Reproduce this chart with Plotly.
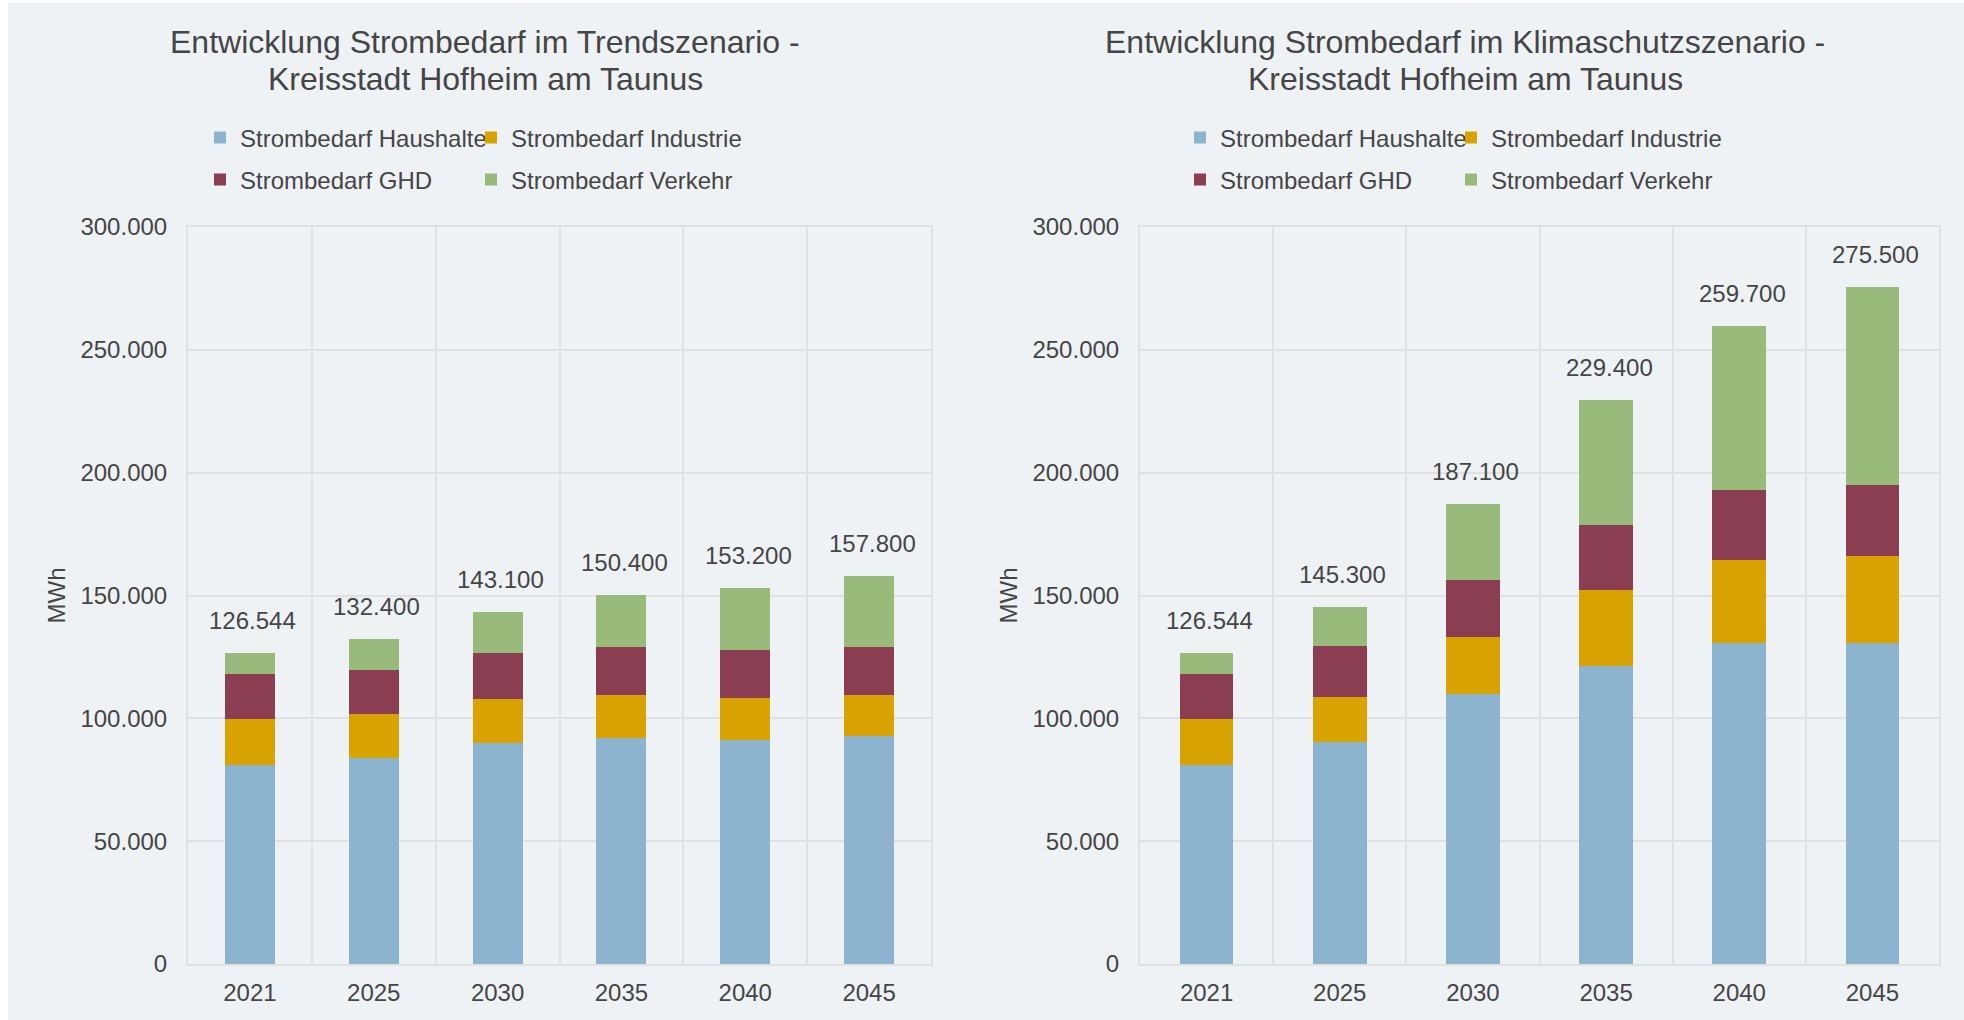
import plotly.graph_objects as go

# ---------------- data ----------------
years = ["2021", "2025", "2030", "2035", "2040", "2045"]
series_names = ["Strombedarf Haushalte", "Strombedarf Industrie",
                "Strombedarf GHD", "Strombedarf Verkehr"]
series_colors = ["#8DB4CE", "#D8A300", "#8B3D52", "#98BB7C"]

trend_haushalte = [81200, 83700, 90000, 92100, 91000, 92800]
trend_industrie = [18600, 17900, 17700, 17600, 17100, 16700]
trend_ghd = [18400, 18200, 18900, 19200, 19700, 19500]
trend_verkehr = [8344, 12600, 16500, 21500, 25400, 28800]
trend_total = [126544, 132400, 143100, 150400, 153200, 157800]

klima_haushalte = [81200, 90400, 110000, 121200, 130800, 130800]
klima_industrie = [18600, 18400, 23300, 31100, 33800, 35300]
klima_ghd = [18400, 20500, 23200, 26400, 28300, 29000]
klima_verkehr = [8344, 16000, 30600, 50700, 66800, 80400]
klima_total = [126544, 145300, 187100, 229400, 259700, 275500]

title_trend = ["Entwicklung Strombedarf im Trendszenario -",
               "Kreisstadt Hofheim am Taunus"]
title_klima = ["Entwicklung Strombedarf im Klimaschutzszenario -",
               "Kreisstadt Hofheim am Taunus"]
y_title = "MWh"

# ---------------- styling ----------------
W, H = 1964, 1020
BG = "#EEF2F5"
GRID = "#E1E1E1"
TXT = "#454545"
FONT = "Liberation Sans, Arial, sans-serif"


def px_x(v):
    return v / W


def px_y(v):
    return 1 - v / H


fig = go.Figure()

trend_series = [trend_haushalte, trend_industrie, trend_ghd, trend_verkehr]
klima_series = [klima_haushalte, klima_industrie, klima_ghd, klima_verkehr]

for i, (name, col, vals) in enumerate(zip(series_names, series_colors, trend_series)):
    fig.add_trace(go.Bar(x=years, y=vals, name=name, marker=dict(color=col, line=dict(width=0)),
                         xaxis="x", yaxis="y", legend="legend" if i < 2 else "legend2",
                         hoverinfo="skip"))
for i, (name, col, vals) in enumerate(zip(series_names, series_colors, klima_series)):
    fig.add_trace(go.Bar(x=years, y=vals, name=name, marker=dict(color=col, line=dict(width=0)),
                         xaxis="x2", yaxis="y2", legend="legend3" if i < 2 else "legend4",
                         hoverinfo="skip"))


def fmt(v):
    return f"{v:,}".replace(",", ".")


annotations = []
for xr, yr, totals in (("x", "y", trend_total), ("x2", "y2", klima_total)):
    for idx, t in enumerate(totals):
        annotations.append(dict(x=idx, y=t, xref=xr, yref=yr, text=fmt(t), showarrow=False,
                                yanchor="bottom", xanchor="center", yshift=17, xshift=3,
                                font=dict(size=24, color=TXT, family=FONT)))

for lines, cx in ((title_trend, 485), (title_klima, 1465)):
    for line, cy in zip(lines, (42, 79)):
        annotations.append(dict(x=px_x(cx), y=px_y(cy), xref="paper", yref="paper", text=line,
                                showarrow=False, xanchor="center", yanchor="middle",
                                font=dict(size=32, color=TXT, family=FONT)))


def axis_x(dom):
    return dict(domain=[px_x(dom[0]), px_x(dom[1])], type="category", tickson="boundaries",
                categoryorder="array", categoryarray=years, range=[-0.5, 5.5],
                showgrid=True, gridcolor=GRID, gridwidth=2, showline=True, mirror=True,
                linecolor=GRID, linewidth=2, ticks="", ticklabelstandoff=6, tickangle=0,
                automargin=False,
                tickfont=dict(size=24, color=TXT, family=FONT), fixedrange=True)


def axis_y(anchor):
    return dict(domain=[px_y(964), px_y(227)], range=[0, 300000], dtick=50000, tick0=0,
                tickformat=",d", showgrid=True, gridcolor=GRID, gridwidth=2, showline=True,
                mirror=True, linecolor=GRID, linewidth=2, ticks="", zeroline=False,
                ticklabelstandoff=14, anchor=anchor, automargin=False,
                tickfont=dict(size=24, color=TXT, family=FONT), fixedrange=True,
                title=dict(text=y_title, standoff=8, font=dict(size=24, color=TXT, family=FONT)))


def legend(x, y):
    return dict(orientation="h", x=px_x(x), y=px_y(y), xanchor="left", yanchor="middle",
                font=dict(size=24, color=TXT, family=FONT), bgcolor="rgba(0,0,0,0)",
                entrywidth=226, entrywidthmode="pixels", traceorder="normal",
                itemclick=False, itemdoubleclick=False, borderwidth=0)


fig.update_layout(
    template="none",
    width=W, height=H,
    margin=dict(l=0, r=0, t=0, b=0, autoexpand=False),
    paper_bgcolor="white", plot_bgcolor=BG,
    separators=",.",
    barmode="stack", bargap=0.596,
    font=dict(family=FONT, color=TXT, size=24),
    xaxis=dict(axis_x((188, 931)), anchor="y"),
    yaxis=axis_y("x"),
    xaxis2=dict(axis_x((1140, 1939)), anchor="y2"),
    yaxis2=axis_y("x2"),
    legend=legend(200, 138),
    legend2=legend(200, 180),
    legend3=legend(1180, 138),
    legend4=legend(1180, 180),
    annotations=annotations,
    shapes=[dict(type="rect", xref="paper", yref="paper", x0=px_x(8), x1=1, y0=0, y1=px_y(3),
                 fillcolor=BG, line=dict(width=0), layer="below")],
    showlegend=True,
)

fig.write_html("out.html", config={"displayModeBar": False},
               post_script="document.body.style.margin='0px';")
